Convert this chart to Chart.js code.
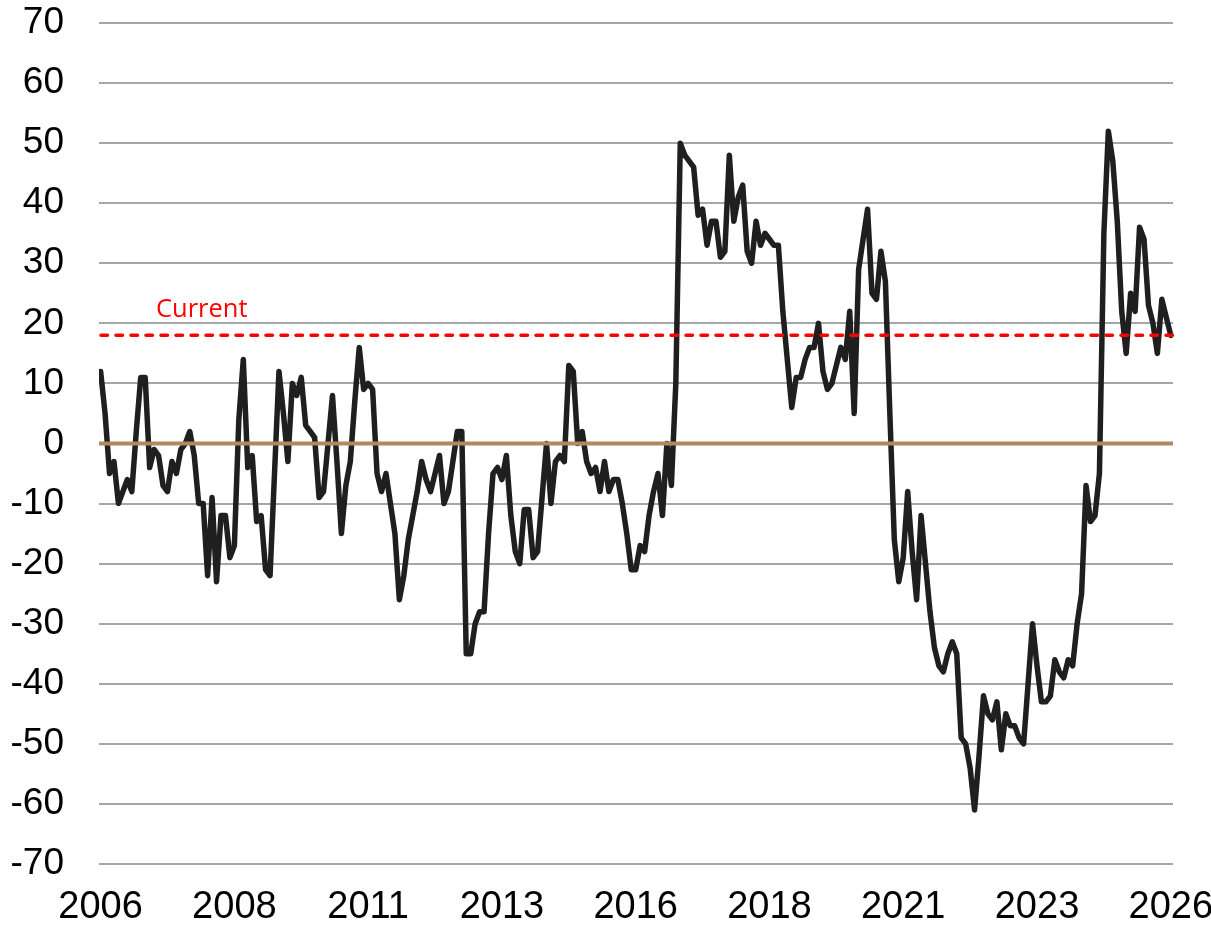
<!DOCTYPE html>
<html>
<head>
<meta charset="utf-8">
<script src="https://cdn.jsdelivr.net/npm/chart.js@4.4.1/dist/chart.umd.min.js"></script>
<style>
  html, body { margin: 0; padding: 0; background: #fff; }
  #wrap { width: 1211px; height: 928px; }
</style>
</head>
<body>
<div id="wrap"><canvas id="chart" width="1211" height="928"></canvas></div>
<script>
// monthly readings, Jan 2006 .. Jan 2026 (index = months since Jan 2006)
const values = [
  12, 5, -5, -3, -10, -8, -6, -8, 2, 11, 11, -4, -1, -2, -7, -8, -3, -5, -1, 0,
  2, -2, -10, -10, -22, -9, -23, -12, -12, -19, -17, 4, 14, -4, -2, -13, -12, -21, -22, -5,
  12, 5, -3, 10, 8, 11, 3, 2, 1, -9, -8, 0, 8, -3, -15, -7, -3, 7, 16, 9,
  10, 9, -5, -8, -5, -10, -15, -26, -22, -16, -12, -8, -3, -6, -8, -5, -2, -10, -8, -3,
  2, 2, -35, -35, -30, -28, -28, -15, -5, -4, -6, -2, -12, -18, -20, -11, -11, -19, -18, -9,
  0, -10, -3, -2, -3, 13, 12, 0, 2, -3, -5, -4, -8, -3, -8, -6, -6, -10, -15, -21,
  -21, -17, -18, -12, -8, -5, -12, 0, -7, 10, 50, 48, 47, 46, 38, 39, 33, 37, 37, 31,
  32, 48, 37, 41, 43, 32, 30, 37, 33, 35, 34, 33, 33, 22, 14, 6, 11, 11, 14, 16,
  16, 20, 12, 9, 10, 13, 16, 14, 22, 5, 29, 34, 39, 25, 24, 32, 27, 5, -16, -23,
  -19, -8, -18, -26, -12, -20, -28, -34, -37, -38, -35, -33, -35, -49, -50, -54, -61, -52, -42, -45,
  -46, -43, -51, -45, -47, -47, -49, -50, -40, -30, -37, -43, -43, -42, -36, -38, -39, -36, -37, -30,
  -25, -7, -13, -12, -5, 35, 52, 47, 37, 22, 15, 25, 22, 36, 34, 23, 20, 15, 24, 21, 18
];
const tickMonths = [0, 30, 60, 90, 120, 150, 180, 210, 240];
const tickLabels = ['2006', '2008', '2011', '2013', '2016', '2018', '2021', '2023', '2026'];
const zeroLevel = 0;
const currentLevel = 18;
const currentLabel = 'Current';

const points = values.map((v, i) => ({ x: i, y: v }));

// zero line, dashed "current" line and its label, drawn over the series
const refLines = {
  id: 'refLines',
  afterDatasetsDraw(chart) {
    const { ctx, chartArea: a, scales: { y } } = chart;
    ctx.save();
    const y0 = y.getPixelForValue(zeroLevel);
    ctx.strokeStyle = '#b08a5c';
    ctx.lineWidth = 4;
    ctx.beginPath();
    ctx.moveTo(a.left, y0);
    ctx.lineTo(a.right, y0);
    ctx.stroke();

    const yc = y.getPixelForValue(currentLevel);
    ctx.strokeStyle = '#ff0000';
    ctx.lineWidth = 3.5;
    ctx.lineCap = 'round';
    ctx.setLineDash([6.5, 8.5]);
    ctx.beginPath();
    ctx.moveTo(a.left + 2, yc);
    ctx.lineTo(a.right, yc);
    ctx.stroke();
    ctx.setLineDash([]);

    ctx.fillStyle = '#ff0000';
    ctx.font = '25.5px "Open Sans", sans-serif';
    ctx.textBaseline = 'alphabetic';
    ctx.textAlign = 'left';
    ctx.fillText(currentLabel, a.left + 57, yc - 18);
    ctx.restore();
  }
};

const axisFont = '"Liberation Sans", Arial, sans-serif';

new Chart(document.getElementById('chart'), {
  type: 'line',
  data: {
    datasets: [{
      data: points,
      borderColor: '#1f1f1f',
      borderWidth: 5.5,
      borderJoinStyle: 'round',
      borderCapStyle: 'round',
      pointRadius: 0,
      tension: 0,
      fill: false
    }]
  },
  options: {
    responsive: false,
    animation: false,
    devicePixelRatio: 1,
    layout: { padding: { top: 23, right: 38, bottom: 0, left: 0 } },
    plugins: {
      legend: { display: false },
      tooltip: { enabled: false }
    },
    scales: {
      x: {
        type: 'linear',
        min: -0.36,
        max: 240.5,
        grid: { display: false, drawTicks: false },
        border: { display: false },
        afterBuildTicks: (s) => { s.ticks = tickMonths.map((v) => ({ value: v })); },
        ticks: {
          autoSkip: false,
          maxRotation: 0,
          padding: 21,
          color: '#000',
          font: { family: axisFont, size: 38 },
          callback: (v) => tickLabels[tickMonths.indexOf(v)]
        },
        afterFit: (s) => { s.height = 64; s.paddingLeft = 0; s.paddingRight = 0; }
      },
      y: {
        min: -70,
        max: 70,
        ticks: {
          stepSize: 10,
          padding: 35,
          color: '#000',
          font: { family: axisFont, size: 37 }
        },
        grid: { color: '#a6a6a6', lineWidth: 2, drawTicks: false },
        border: { display: false },
        afterFit: (s) => { s.width = 99; s.paddingTop = 0; s.paddingBottom = 0; }
      }
    }
  },
  plugins: [refLines]
});
</script>
</body>
</html>
